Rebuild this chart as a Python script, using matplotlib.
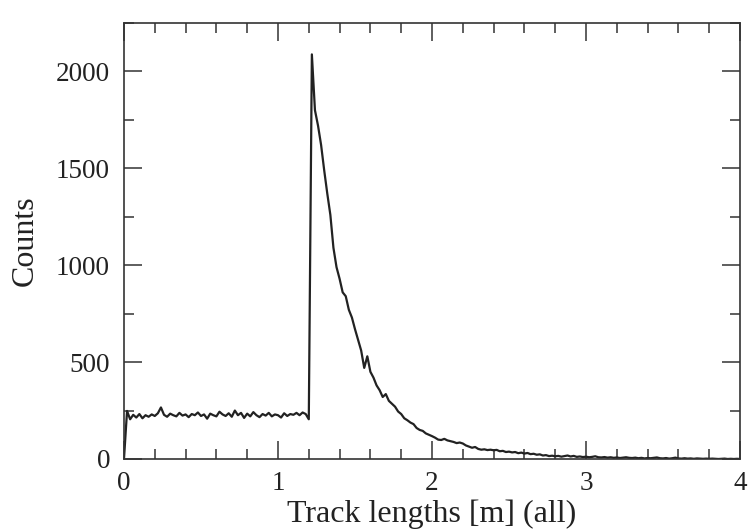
import matplotlib
matplotlib.use("Agg")
import matplotlib.pyplot as plt
from matplotlib.ticker import MultipleLocator
import numpy as np

# histogram of track lengths, bin spacing 0.02 m
x_start, x_step = 0.0, 0.02
counts = [
    0, 248, 205, 228, 214, 232, 210, 226, 218, 230,
    222, 236, 266, 228, 218, 234, 226, 220, 238, 224,
    230, 216, 232, 226, 240, 222, 230, 208, 234, 226,
    220, 244, 230, 222, 236, 218, 250, 226, 238, 212,
    234, 220, 242, 226, 216, 232, 224, 238, 220, 230,
    226, 214, 236, 222, 232, 228, 238, 226, 240, 232,
    205, 2088, 1800, 1720, 1620, 1490, 1370, 1260, 1090, 990,
    930, 860, 840, 770, 730, 670, 615, 560, 470, 530,
    450, 420, 380, 355, 320, 335, 300, 285, 270, 245,
    232, 210, 200, 188, 180, 160, 150, 145, 132, 125,
    118, 110, 100, 98, 104, 96, 92, 88, 82, 85,
    80, 70, 64, 58, 62, 52, 48, 50, 46, 48,
    45, 47, 40, 42, 36, 38, 34, 36, 30, 33,
    28, 31, 25, 27, 22, 24, 18, 20, 15, 17,
    14, 16, 12, 15, 18, 13, 16, 11, 13, 10,
    12, 9, 11, 14, 9, 8, 10, 7, 9, 6,
    8, 5, 7, 9, 6, 5, 7, 4, 6, 3,
    5, 4, 6, 8, 4, 3, 5, 2, 4, 7,
    3, 2, 4, 2, 3, 1, 3, 2, 1, 2,
    1, 2, 1, 0, 1, 2, 0, 1, 0, 1,
    0,
]
lengths = x_start + x_step * np.arange(len(counts))

plt.rcParams.update({
    "font.family": ["Liberation Serif", "DejaVu Serif"],
    "font.size": 19.5,
    "axes.linewidth": 1.2,
})

fig = plt.figure(figsize=(7.5, 5.31), dpi=100)
ax = fig.add_axes([0.1653, 0.1356, 0.8214, 0.8211])
ax.plot(lengths, counts, color="#222222", lw=1.6)

ax.set_xlim(0, 4)
ax.set_ylim(0, 2250)
ax.xaxis.set_major_locator(MultipleLocator(1))
ax.xaxis.set_minor_locator(MultipleLocator(0.2))
ax.yaxis.set_major_locator(MultipleLocator(500))
ax.yaxis.set_minor_locator(MultipleLocator(250))
ax.tick_params(which="both", direction="in", top=True, right=True,
               color="#333333", width=1.1)
ax.tick_params(which="major", length=13)
ax.tick_params(axis="x", which="major", pad=9)
ax.tick_params(axis="y", which="major", pad=10)
ax.tick_params(which="minor", length=7)

ax.set_xlabel("Track lengths [m] (all)", color="#222222", fontsize=23, labelpad=2)
ax.set_ylabel("Counts", color="#222222", fontsize=23, labelpad=12)
for lab in ax.get_xticklabels() + ax.get_yticklabels():
    lab.set_color("#222222")
for s in ax.spines.values():
    s.set_color("#333333")

fig.savefig("out.png", dpi=100)
